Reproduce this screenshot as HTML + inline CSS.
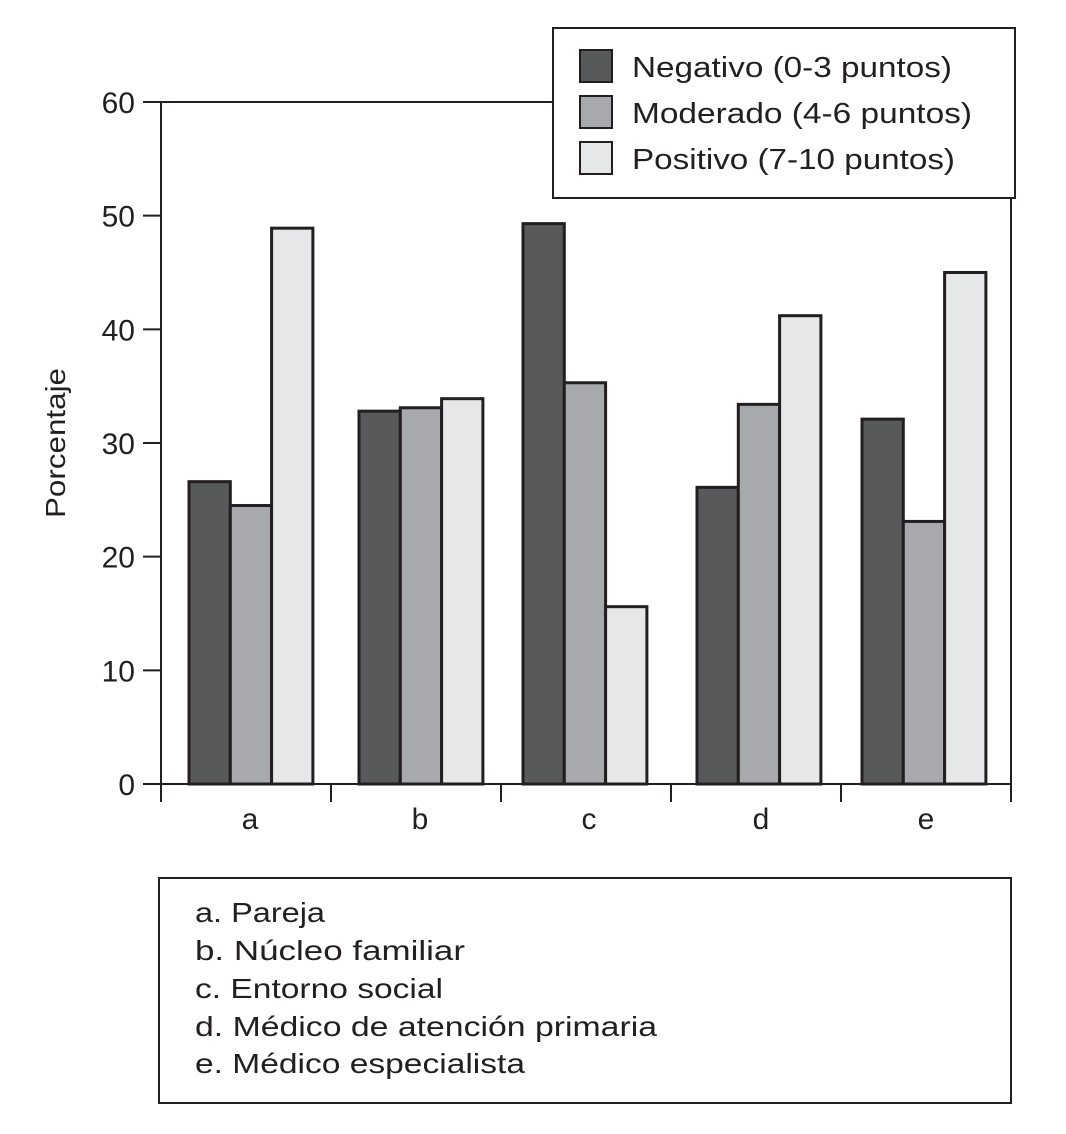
<!DOCTYPE html>
<html><head><meta charset="utf-8"><style>
body{margin:0;background:#fff}
text{font-family:"Liberation Sans",sans-serif;fill:#231f20}
</style></head><body>
<svg id="chart" width="1066" height="1129" viewBox="0 0 1066 1129" xmlns="http://www.w3.org/2000/svg">
<g id="bars"></g>
<g id="axes"></g>
<text transform="translate(65,443) rotate(-90)" text-anchor="middle" font-size="28" textLength="150" lengthAdjust="spacingAndGlyphs">Porcentaje</text>
<g>
<rect x="553" y="28" width="462" height="170" fill="#fff" stroke="#231f20" stroke-width="2"/>
<g><rect x="580" y="50" width="32" height="32" fill="#58595b" stroke="#231f20" stroke-width="2"/><text x="632" y="77" font-size="29" textLength="320" lengthAdjust="spacingAndGlyphs">Negativo (0-3 puntos)</text></g>
<g><rect x="580" y="96" width="32" height="32" fill="#a7a9ac" stroke="#231f20" stroke-width="2"/><text x="632" y="123" font-size="29" textLength="340" lengthAdjust="spacingAndGlyphs">Moderado (4-6 puntos)</text></g>
<g><rect x="580" y="142" width="32" height="32" fill="#e6e7e8" stroke="#231f20" stroke-width="2"/><text x="632" y="169" font-size="29" textLength="323" lengthAdjust="spacingAndGlyphs">Positivo (7-10 puntos)</text></g>
</g>
<g>
<rect x="159" y="878" width="852" height="225" fill="#fff" stroke="#231f20" stroke-width="2"/>
<text x="195" y="922" font-size="28" textLength="130" lengthAdjust="spacingAndGlyphs">a. Pareja</text>
<text x="195" y="960" font-size="28" textLength="270" lengthAdjust="spacingAndGlyphs">b. Núcleo familiar</text>
<text x="195" y="998" font-size="28" textLength="248" lengthAdjust="spacingAndGlyphs">c. Entorno social</text>
<text x="195" y="1036" font-size="28" textLength="462" lengthAdjust="spacingAndGlyphs">d. Médico de atención primaria</text>
<text x="195" y="1073" font-size="28" textLength="330" lengthAdjust="spacingAndGlyphs">e. Médico especialista</text>
</g>
</svg>
<script>
const categories=["a","b","c","d","e"];
const negativo=[26.6,32.8,49.3,26.1,32.1];
const moderado=[24.5,33.1,35.3,33.4,23.1];
const positivo=[48.9,33.9,15.6,41.2,45.0];
const yTicks=[0,10,20,30,40,50,60];
const NS="http://www.w3.org/2000/svg";
const x0=161,x1=1011,yBase=784,yTop=102,yMax=60;
const y=v=>yBase-(v/yMax)*(yBase-yTop);
const gw=(x1-x0)/categories.length;
const bw=41.3;
const groupOffset=[28,28,22,26,21];
const bars=document.getElementById('bars'),axes=document.getElementById('axes');
function mk(tag,attrs,parent){const e=document.createElementNS(NS,tag);for(const k in attrs)e.setAttribute(k,attrs[k]);parent.appendChild(e);return e;}
const series=[[negativo,"#58595b","negativo"],[moderado,"#a7a9ac","moderado"],[positivo,"#e6e7e8","positivo"]];
categories.forEach((c,i)=>{
  series.forEach(([vals,col,nm],s)=>{
    const bx=x0+i*gw+groupOffset[i]+s*bw;
    const r=mk('rect',{x:bx,y:y(vals[i]),width:bw,height:yBase-y(vals[i]),fill:col,stroke:"#231f20","stroke-width":3},bars);
    
    
  });
});
mk('polyline',{points:`${x0},${yBase} ${x0},${yTop} ${x1},${yTop} ${x1},${yBase}`,fill:"none",stroke:"#231f20","stroke-width":2},axes);
mk('line',{x1:x0,y1:yBase,x2:x1,y2:yBase,stroke:"#231f20","stroke-width":2},axes);
yTicks.forEach(t=>{
  mk('line',{x1:x0-18,y1:y(t),x2:x0,y2:y(t),stroke:"#231f20","stroke-width":2},axes);
  const tx=mk('text',{x:x0-26,y:y(t)+11,"text-anchor":"end","font-size":30},axes);
  tx.textContent=t;
  
  
});
for(let i=0;i<=categories.length;i++){
  mk('line',{x1:x0+i*gw,y1:yBase,x2:x0+i*gw,y2:yBase+18,stroke:"#231f20","stroke-width":2},axes);
}
const labelX=[250,420,589,761,926];
categories.forEach((c,i)=>{
  const tx=mk('text',{x:labelX[i],y:yBase+45,"text-anchor":"middle","font-size":30},axes);
  tx.textContent=c;
  
  
});
</script>
</body></html>
